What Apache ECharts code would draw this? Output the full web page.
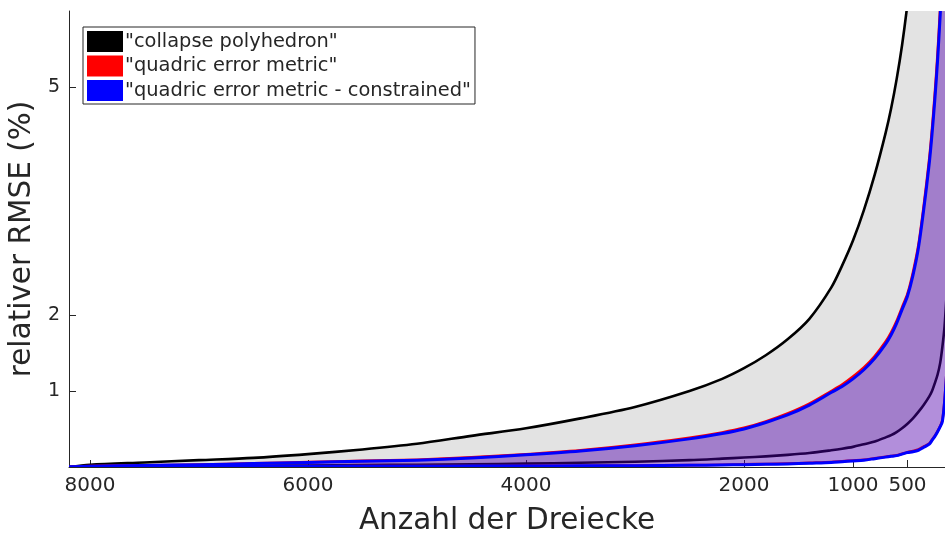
<!DOCTYPE html>
<html>
<head>
<meta charset="utf-8">
<title>relativer RMSE</title>
<script src="https://cdn.jsdelivr.net/npm/echarts@6/dist/echarts.min.js"></script>
<style>
  html, body { margin: 0; padding: 0; background: #ffffff; }
  #chart { width: 945px; height: 533px; }
</style>
</head>
<body>
<div id="chart"></div>
<script>
// Triangle counts at which the error bands are sampled (x axis runs from 8192 down)
const triangles = [8192, 8000, 7500, 7000, 6500, 6000, 5500, 5000, 4500, 4000, 3500, 3000,
  2500, 2200, 2000, 1800, 1600, 1400, 1200, 1100, 1000, 900, 800, 700, 650, 600, 550,
  500, 450, 400, 350, 300, 275, 250, 225, 200, 180, 160, 140];

// "collapse polyhedron": lower / upper bound of relative RMSE (%)
const collapseLower = [0, 0.005, 0.01, 0.013, 0.017, 0.02, 0.025, 0.03, 0.035, 0.045, 0.055, 0.07,
  0.09, 0.11, 0.125, 0.14, 0.16, 0.185, 0.22, 0.24, 0.265, 0.3, 0.335, 0.39, 0.42, 0.46, 0.51,
  0.57, 0.64, 0.725, 0.82, 0.93, 1.0, 1.1, 1.21, 1.37, 1.58, 1.85, 2.3];
const collapseUpper = [0, 0.03, 0.06, 0.09, 0.12, 0.17, 0.23, 0.305, 0.41, 0.51, 0.64, 0.79,
  1.0, 1.16, 1.3, 1.47, 1.68, 1.95, 2.36, 2.65, 2.98, 3.38, 3.85, 4.4, 4.72, 5.1, 5.55,
  6.1, 6.75, 7.55, 8.55, 9.8, 10.6, 11.5, 12.5, 13.7, 14.8, 16.0, 17.3];

// "quadric error metric": lower / upper bound
const qemLower = [0, 0.004, 0.006, 0.008, 0.009, 0.01, 0.011, 0.012, 0.013, 0.015, 0.017, 0.02,
  0.025, 0.03, 0.035, 0.04, 0.045, 0.055, 0.065, 0.075, 0.085, 0.095, 0.115, 0.135, 0.145, 0.155, 0.175,
  0.195, 0.21, 0.23, 0.27, 0.31, 0.36, 0.41, 0.47, 0.54, 0.62, 0.88, 1.3];
const qemUpper = [0, 0.012, 0.022, 0.033, 0.048, 0.064, 0.08, 0.096, 0.127, 0.168, 0.22, 0.292,
  0.385, 0.455, 0.515, 0.6, 0.705, 0.835, 1.0, 1.085, 1.19, 1.31, 1.46, 1.65, 1.77, 1.92, 2.1,
  2.28, 2.56, 2.92, 3.45, 4.06, 4.45, 4.9, 5.42, 6.05, 6.66, 7.36, 8.16];

// "quadric error metric - constrained": lower / upper bound
const qemcLower = [0, 0.003, 0.005, 0.007, 0.008, 0.009, 0.01, 0.011, 0.012, 0.013, 0.015, 0.018,
  0.022, 0.027, 0.03, 0.035, 0.04, 0.05, 0.06, 0.07, 0.08, 0.09, 0.11, 0.13, 0.14, 0.15, 0.17,
  0.19, 0.2, 0.22, 0.26, 0.3, 0.35, 0.4, 0.46, 0.53, 0.6, 0.85, 1.25];
const qemcUpper = [0, 0.01, 0.02, 0.03, 0.045, 0.06, 0.075, 0.09, 0.12, 0.16, 0.21, 0.28,
  0.37, 0.44, 0.5, 0.585, 0.685, 0.815, 0.98, 1.06, 1.16, 1.28, 1.43, 1.62, 1.74, 1.89, 2.07,
  2.25, 2.52, 2.88, 3.4, 4.0, 4.38, 4.82, 5.33, 5.95, 6.55, 7.25, 8.05];

// Axis ticks
const xTicks = [8000, 6000, 4000, 2000, 1000, 500];
const yTicks = [1, 2, 5];

const methodNames = ['"collapse polyhedron"', '"quadric error metric"', '"quadric error metric - constrained"'];

const FONT = 'DejaVu Sans';
const INK = '#262626';
const SMOOTH = 0.3;

// One translucent band per method: filled region between the lower and upper
// bound, outlined by both bound lines. Drawn once, as a single group.
function band(name, lower, upper, color, fill, width) {
  return {
    type: 'custom',
    name: name,
    coordinateSystem: 'cartesian2d',
    clip: true,
    silent: true,
    itemStyle: { color: color },
    encode: { x: 0, y: 1 },
    data: triangles.map((t, i) => [t, lower[i], upper[i]]),
    renderItem: function (params, api) {
      if (params.dataIndexInside !== 0) return null;
      const lo = triangles.map((t, i) => api.coord([t, lower[i]]));
      const hi = triangles.map((t, i) => api.coord([t, upper[i]]));
      const outline = lo.concat(hi.slice().reverse());
      return {
        type: 'group',
        children: [
          { type: 'polygon', shape: { points: outline, smooth: SMOOTH },
            style: { fill: fill, stroke: null } },
          { type: 'polyline', shape: { points: lo, smooth: SMOOTH },
            style: { fill: null, stroke: color, lineWidth: width, lineJoin: 'round' } },
          { type: 'polyline', shape: { points: hi, smooth: SMOOTH },
            style: { fill: null, stroke: color, lineWidth: width, lineJoin: 'round' } }
        ]
      };
    }
  };
}

const series = [
  band(methodNames[0], collapseLower, collapseUpper, '#000000', 'rgba(0,0,0,0.11)', 2.6),
  band(methodNames[1], qemLower, qemUpper, '#ff0000', 'rgba(255,0,0,0.2)', 2.6),
  band(methodNames[2], qemcLower, qemcUpper, '#0000ff', 'rgba(0,0,255,0.3)', 3)
];

const chart = echarts.init(document.getElementById('chart'), null, { renderer: 'canvas' });
chart.setOption({
  animation: false,
  backgroundColor: '#ffffff',
  textStyle: { fontFamily: FONT },
  grid: { left: 69, right: 0, top: 11, bottom: 66, outerBoundsMode: 'none', containLabel: false },
  legend: {
    orient: 'vertical',
    left: 83,
    top: 27,
    icon: 'rect',
    itemWidth: 36,
    itemHeight: 21,
    itemGap: 3.5,
    padding: [4, 4, 3, 4],
    backgroundColor: '#ffffff',
    borderColor: INK,
    borderWidth: 1,
    borderRadius: 0,
    selectedMode: false,
    textStyle: { fontSize: 19.4, color: INK, fontFamily: FONT, padding: [0, 0, 0, -3] },
    data: [
      { name: methodNames[0], itemStyle: { color: '#000000', borderWidth: 0 } },
      { name: methodNames[1], itemStyle: { color: '#ff0000', borderWidth: 0 } },
      { name: methodNames[2], itemStyle: { color: '#0000ff', borderWidth: 0 } }
    ]
  },
  xAxis: {
    type: 'value',
    inverse: true,
    min: 156,
    max: 8192,
    name: 'Anzahl der Dreiecke',
    nameLocation: 'middle',
    nameGap: 39,
    nameTextStyle: { fontSize: 29.5, color: INK, fontFamily: FONT },
    axisLine: { show: true, onZero: false, lineStyle: { color: INK, width: 1 } },
    axisTick: { show: true, inside: true, length: 7, customValues: xTicks, lineStyle: { color: INK } },
    axisLabel: { customValues: xTicks, formatter: v => String(v), margin: 9, fontSize: 20, color: INK, fontFamily: FONT },
    splitLine: { show: false }
  },
  yAxis: {
    type: 'value',
    min: 0,
    max: 6,
    name: 'relativer RMSE (%)',
    nameLocation: 'middle',
    nameGap: 25,
    nameTextStyle: { fontSize: 29.5, color: INK, fontFamily: FONT },
    axisLine: { show: true, onZero: false, lineStyle: { color: INK, width: 1 } },
    axisTick: { show: true, inside: true, length: 7, customValues: yTicks, lineStyle: { color: INK } },
    axisLabel: { customValues: yTicks, formatter: v => String(v), margin: 9, fontSize: 19, color: INK, fontFamily: FONT },
    splitLine: { show: false }
  },
  series: series
});
</script>
</body>
</html>
